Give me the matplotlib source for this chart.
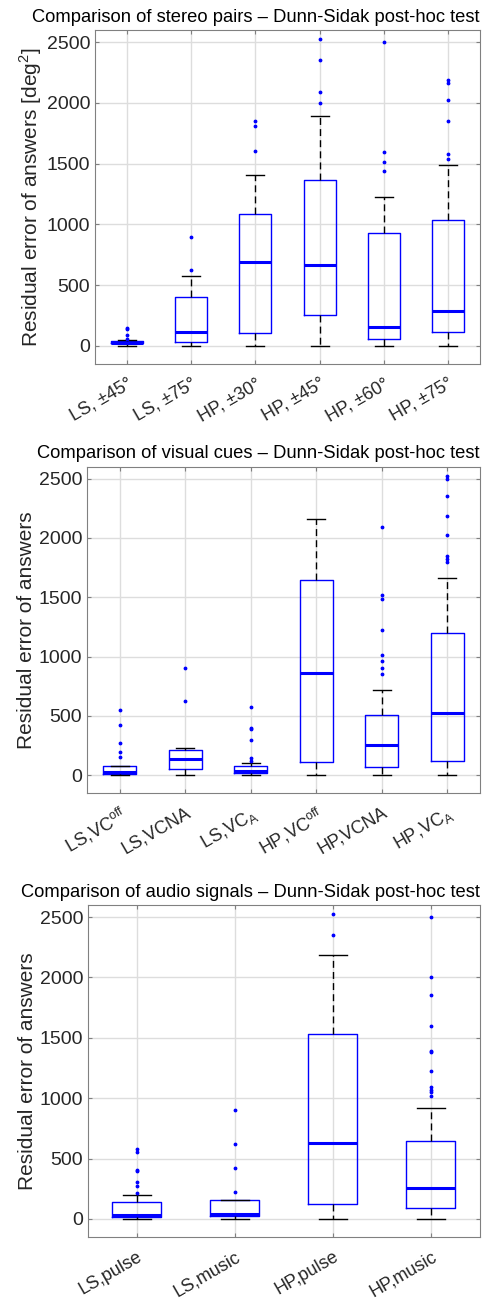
import numpy as np
import matplotlib
matplotlib.use('Agg')
import matplotlib.pyplot as plt

plt.rcParams['font.family'] = ['Liberation Sans', 'DejaVu Sans']
plt.rcParams['mathtext.fontset'] = 'custom'
plt.rcParams['mathtext.rm'] = 'Liberation Sans'

# 立体声对
labels_1 = ['LS, ±45°', 'LS, ±75°', 'HP, ±30°', 'HP, ±45°', 'HP, ±60°', 'HP, ±75°']
q1_1 = [22, 33, 107, 250, 60, 115]
med_1 = [22, 110, 689, 667, 154, 288]
q3_1 = [36, 398, 1087, 1367, 927, 1032]
lo_1 = [0, 0, 0, 0, 0, 0]
hi_1 = [44, 576, 1408, 1891, 1224, 1485]
fl_1 = [[55, 90, 135, 150],
        [623, 897],
        [1600, 1806, 1847],
        [2000, 2091, 2352, 2524],
        [1441, 1517, 1597, 2500],
        [1537, 1578, 1847, 2025, 2162, 2190]]

# 视觉提示
labels_2 = [r'LS,VC$^{\rm off}$', 'LS,VCNA', r'LS,VC$_{\rm A}$',
            r'HP,VC$^{\rm off}$', 'HP,VCNA', r'HP,VC$_{\rm A}$']
q1_2 = [11, 56, 17, 115, 73, 121]
med_2 = [28, 140, 34, 858, 258, 527]
q3_2 = [78, 210, 81, 1645, 505, 1200]
lo_2 = [0, 0, 0, 0, 0, 0]
hi_2 = [81, 227, 104, 2158, 715, 1659]
fl_2 = [[151, 196, 272, 420, 552],
        [625, 900],
        [118, 146, 297, 392, 401, 577],
        [],
        [855, 900, 959, 1009, 1222, 1483, 1522, 2091],
        [1800, 1825, 1845, 2021, 2184, 2349, 2497, 2523]]

# 音频信号
labels_3 = ['LS,pulse', 'LS,music', 'HP,pulse', 'HP,music']
q1_3 = [14, 22, 124, 94]
med_3 = [33, 44, 626, 257]
q3_3 = [138, 155, 1534, 648]
lo_3 = [0, 0, 0, 0]
hi_3 = [196, 155, 2188, 916]
fl_3 = [[215, 270, 303, 395, 403, 552, 577],
        [226, 419, 624, 902],
        [2353, 2527],
        [1021, 1048, 1065, 1090, 1228, 1380, 1393, 1600, 1851, 2003, 2502]]

titles = ['Comparison of stereo pairs – Dunn-Sidak post-hoc test',
          'Comparison of visual cues – Dunn-Sidak post-hoc test',
          'Comparison of audio signals – Dunn-Sidak post-hoc test']
ylabels = ['Residual error of answers [deg$^2$]',
           'Residual error of answers',
           'Residual error of answers']

panels = [(labels_1, q1_1, med_1, q3_1, lo_1, hi_1, fl_1),
          (labels_2, q1_2, med_2, q3_2, lo_2, hi_2, fl_2),
          (labels_3, q1_3, med_3, q3_3, lo_3, hi_3, fl_3)]

positions = [[0.1955, 0.7202, 0.792, 0.2567],
             [0.179, 0.3905, 0.8086, 0.2508],
             [0.181, 0.0492, 0.8066, 0.2552]]

fig = plt.figure(figsize=(4.86, 13.01), dpi=100)

for k, (labels, q1, med, q3, lo, hi, fl) in enumerate(panels):
    ax = fig.add_axes(positions[k])
    stats = []
    for i in range(len(labels)):
        stats.append({'med': med[i], 'q1': q1[i], 'q3': q3[i],
                      'whislo': lo[i], 'whishi': hi[i], 'fliers': fl[i]})
    ax.bxp(stats, positions=np.arange(1, len(labels) + 1), widths=0.5,
           capwidths=0.28, showfliers=True,
           boxprops=dict(color='#0000ff', linewidth=1.0),
           medianprops=dict(color='#0000ff', linewidth=2.2),
           whiskerprops=dict(color='black', linewidth=1.0, linestyle=(0, (5, 3))),
           capprops=dict(color='black', linewidth=1.0),
           flierprops=dict(marker='.', markersize=3.5, markerfacecolor='#0000ff',
                           markeredgecolor='#0000ff', linestyle='none'))
    ax.set_ylim(-150, 2600)
    ax.set_xlim(0.5, len(labels) + 0.5)
    ax.set_yticks([0, 500, 1000, 1500, 2000, 2500])
    ax.set_xticks(np.arange(1, len(labels) + 1))
    ax.set_xticklabels(labels, rotation=30, ha='right', rotation_mode='anchor')
    ax.grid(True, color='#dddddd', linewidth=1.0)
    ax.set_axisbelow(True)
    ax.tick_params(direction='in', length=3, colors='#808080', labelcolor='#262626',
                   labelsize=14, right=True, top=True)
    ax.tick_params(axis='x', pad=8, labelsize=13)
    for s in ax.spines.values():
        s.set_color('#808080')
    ax.set_ylabel(ylabels[k], fontsize=15, color='#262626', labelpad=2)
    ax.set_title(titles[k], loc='right', fontsize=13.2, pad=6)

fig.savefig('out.png', dpi=100)
